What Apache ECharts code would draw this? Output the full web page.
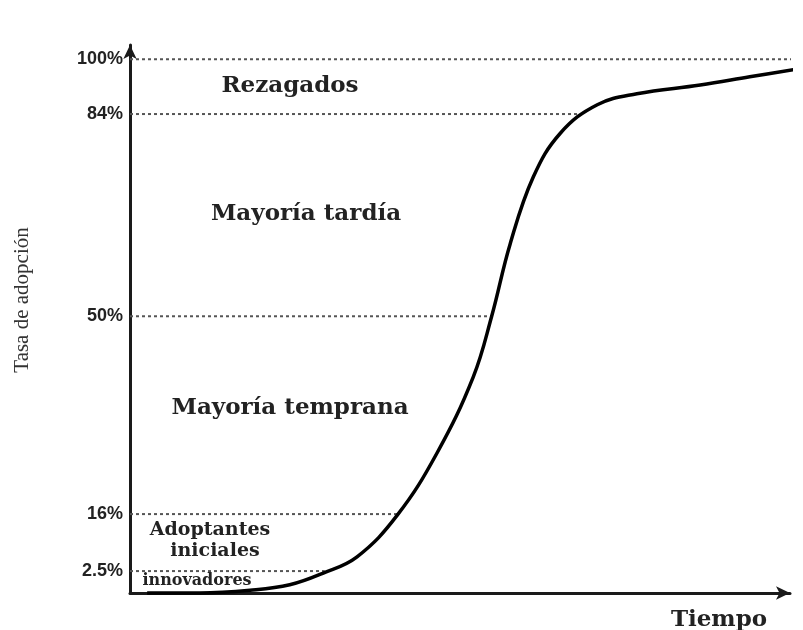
<!DOCTYPE html>
<html>
<head>
<meta charset="utf-8">
<script src="https://cdn.jsdelivr.net/npm/echarts@6/dist/echarts.min.js"></script>
<style>html,body{margin:0;padding:0;background:#fff;}#c{width:803px;height:630px;}</style>
</head>
<body>
<div id="c"></div>
<script>
// Horizontal time scale 0..100 (schematic); vertical axis in schematic position units 0..100
var curveX = [2.6, 10.6, 18.2, 24.2, 29.2, 34.4, 40.5, 46.5, 52.0, 54.8, 57.6, 61.1, 65.2, 70.8, 76.8, 86.4, 93.9, 102];
var curveY = [0, 0, 0.5, 1.5, 3.6, 6.6, 14.2, 25.5, 39.4, 50.5, 63.7, 75.9, 83.9, 89.1, 91.1, 92.7, 94.2, 95.8];
var tickLabels = ['2.5%', '16%', '50%', '84%', '100%'];
var tickPos = [4.0, 14.4, 50.5, 87.4, 97.4];
var guideEnds = [29.5, 40.5, 54.8, 67.8, 102];
var regionNames = ['Rezagados', 'Mayoría tardía', 'Mayoría temprana', 'Adoptantes', 'iniciales', 'innovadores'];

var chart = echarts.init(document.getElementById('c'), null, {renderer: 'canvas'});
var data = curveX.map(function (x, i) { return [x, curveY[i]]; });
var serif = '"DejaVu Serif", "Liberation Serif", serif';
var series = tickPos.map(function (p, i) {
  return {
    type: 'line', data: [[0, p], [guideEnds[i], p]], showSymbol: false, clip: false, silent: true,
    lineStyle: {color: '#555', type: [3, 3], width: 2}, z: 1
  };
});
series.push({
  type: 'line', data: data, smooth: 0.4, showSymbol: false, clip: false,
  lineStyle: {color: '#000', width: 3.5}, z: 3
});
function txt(s, x, y, size) {
  return {type: 'text', x: x, y: y, style: {text: s, font: 'bold ' + size + 'px ' + serif, fill: '#222', align: 'center', verticalAlign: 'middle'}};
}
chart.setOption({
  animation: false,
  backgroundColor: '#fff',
  grid: {left: 130, right: 13, top: 45, bottom: 37},
  xAxis: {
    type: 'value', min: 0, max: 100,
    axisLine: {show: true, symbol: ['none', 'arrow'], symbolSize: [10, 14], lineStyle: {color: '#1a1a1a', width: 3}},
    axisTick: {show: false}, axisLabel: {show: false}, splitLine: {show: false}
  },
  yAxis: {
    type: 'value', min: 0, max: 100,
    axisLine: {show: true, symbol: ['none', 'arrow'], symbolSize: [10, 14], lineStyle: {color: '#1a1a1a', width: 3}},
    axisTick: {show: false}, splitLine: {show: false},
    axisLabel: {
      customValues: tickPos, margin: 7,
      fontFamily: '"Liberation Sans Narrow", "Liberation Sans", Arial, sans-serif',
      fontWeight: 'bold', fontSize: 18, color: '#222',
      formatter: function (v) { var i = tickPos.indexOf(v); return i >= 0 ? tickLabels[i] : ''; }
    }
  },
  series: series,
  graphic: [
    txt(regionNames[0], 290, 86, 23),
    txt(regionNames[1], 306, 214, 23),
    txt(regionNames[2], 290, 408, 23),
    txt(regionNames[3], 210, 530, 19),
    txt(regionNames[4], 215, 551, 19),
    txt(regionNames[5], 197, 581, 16),
    txt('Tiempo', 719, 620, 23),
    {type: 'text', x: 22, y: 300, rotation: Math.PI / 2,
     style: {text: 'Tasa de adopción', font: '21px "Liberation Serif", serif', fill: '#333', align: 'center', verticalAlign: 'middle'}}
  ]
});
</script>
</body>
</html>
